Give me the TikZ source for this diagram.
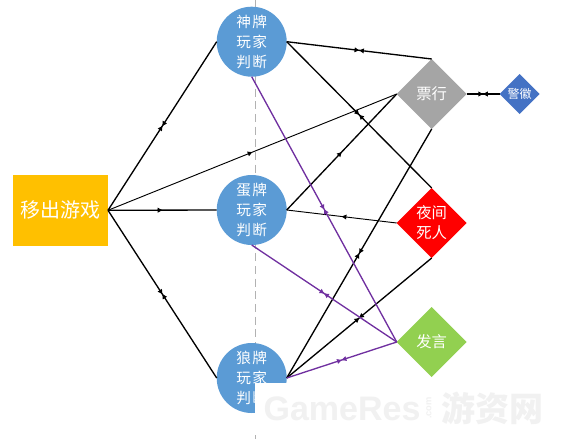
\documentclass[tikz,border=0pt]{standalone}
\usepackage{fontspec}
\usetikzlibrary{shapes.geometric,arrows.meta,decorations.markings}
\newfontfamily\cjk{Noto Sans CJK SC}
\newfontfamily\cjkwide[LetterSpace=10]{Noto Sans CJK SC}
\newfontfamily\wmlatin{Liberation Sans}
\definecolor{playerblue}{HTML}{5B9BD5}
\definecolor{exitgold}{HTML}{FFC000}
\definecolor{ticketgrey}{HTML}{A5A5A5}
\definecolor{speechgreen}{HTML}{92D050}
\definecolor{badgeblue}{HTML}{4472C4}
\definecolor{linkpurple}{HTML}{7030A0}
\definecolor{wmgrey}{HTML}{F1F1F1}
\tikzset{
  playernode/.style={circle,fill=playerblue,draw=none,minimum size=52.5pt,inner sep=0pt,outer sep=0pt,text=white,align=center,font=\cjkwide\fontsize{11}{15}\selectfont},
  bigdiamond/.style={diamond,aspect=1,minimum size=52.5pt,inner sep=0pt,outer sep=0pt,text=white,align=center,font=\cjk\fontsize{11.5}{15}\selectfont},
  twoheads/.style={postaction={decorate},decoration={markings,mark=at position .5 with {\arrow{Triangle[length=3.5pt,width=3.5pt]}\arrowreversed{Triangle[length=3.5pt,width=3.5pt]}}}},
  onehead/.style={postaction={decorate},decoration={markings,mark=at position .5 with {\arrow{Triangle[length=3.5pt,width=3.5pt]}}}},
  link/.style={draw=black,line width=1pt},
  thinlink/.style={draw=black,line width=.7pt},
  purplelink/.style={draw=linkpurple,line width=1pt},
}
\begin{document}
\begin{tikzpicture}[x=0.75pt,y=-0.75pt]
\useasboundingbox (0,0) rectangle (568,443);
\coordinate (dashtop) at (255.3,0);
\coordinate (dashbottom) at (255.3,443);
\draw[color=black!30,line width=.8pt,dash pattern=on 6pt off 3.5pt] (dashtop) -- (dashbottom);
\node[playernode] (god) at (251.7,41.7) {神牌\\玩家\\判断};
\node[playernode] (egg) at (251.7,210) {蛋牌\\玩家\\判断};
\node[playernode] (wolf) at (251.7,378) {狼牌\\玩家\\判断};
\node[fill=exitgold,minimum width=71.25pt,minimum height=53pt,inner sep=0pt,outer sep=0pt,text=white,font=\cjk\fontsize{15}{18}\selectfont] (exit) at (60.5,210.3) {移出游戏};
\node[bigdiamond,fill=ticketgrey] (ticket) at (431.7,94) {票行};
\node[bigdiamond,fill=red] (death) at (431.7,223) {夜间\\死人};
\node[bigdiamond,fill=speechgreen] (speech) at (431.7,342) {发言};
\node[diamond,aspect=1,minimum size=30pt,inner sep=0pt,outer sep=0pt,fill=badgeblue,text=white,font=\cjk\fontsize{9}{11}\selectfont] (badge) at (519.5,94) {警徽};
\draw[link,twoheads] (exit.east) -- (god.west);
\draw[link,onehead] (exit.east) -- (egg.west);
\draw[link,twoheads] (exit.east) -- (wolf.west);
\draw[thinlink,onehead] (exit.east) -- (ticket.west);
\draw[link,twoheads] (god.east) -- (ticket.north);
\draw[link,twoheads] (god.east) -- (death.north);
\draw[link,onehead] (egg.east) -- (ticket.west);
\draw[thinlink,onehead] (death.west) -- (egg.east);
\draw[link,twoheads] (wolf.east) -- (ticket.south);
\draw[link,twoheads] (wolf.east) -- (death.south);
\draw[link,twoheads] (ticket.east) -- (badge.west);
\draw[purplelink,twoheads] (god.south) -- (speech.west);
\draw[purplelink,twoheads] (egg.south) -- (speech.west);
\draw[purplelink,twoheads] (wolf.east) -- (speech.west);
\fill[white] (255,383) rectangle (568,435);
\node[text=wmgrey,font=\wmlatin\bfseries\fontsize{25.5}{28}\selectfont,inner sep=0pt] (wmname) at (342,409) {GameRes};
\node[text=wmgrey,font=\wmlatin\bfseries\fontsize{7}{8}\selectfont,rotate=90,inner sep=0pt] (wmcom) at (429,408) {.com};
\node[text=wmgrey,font=\cjk\bfseries\fontsize{25.5}{28}\selectfont,inner sep=0pt] (wmcn) at (492,408) {游资网};
\end{tikzpicture}
\end{document}
